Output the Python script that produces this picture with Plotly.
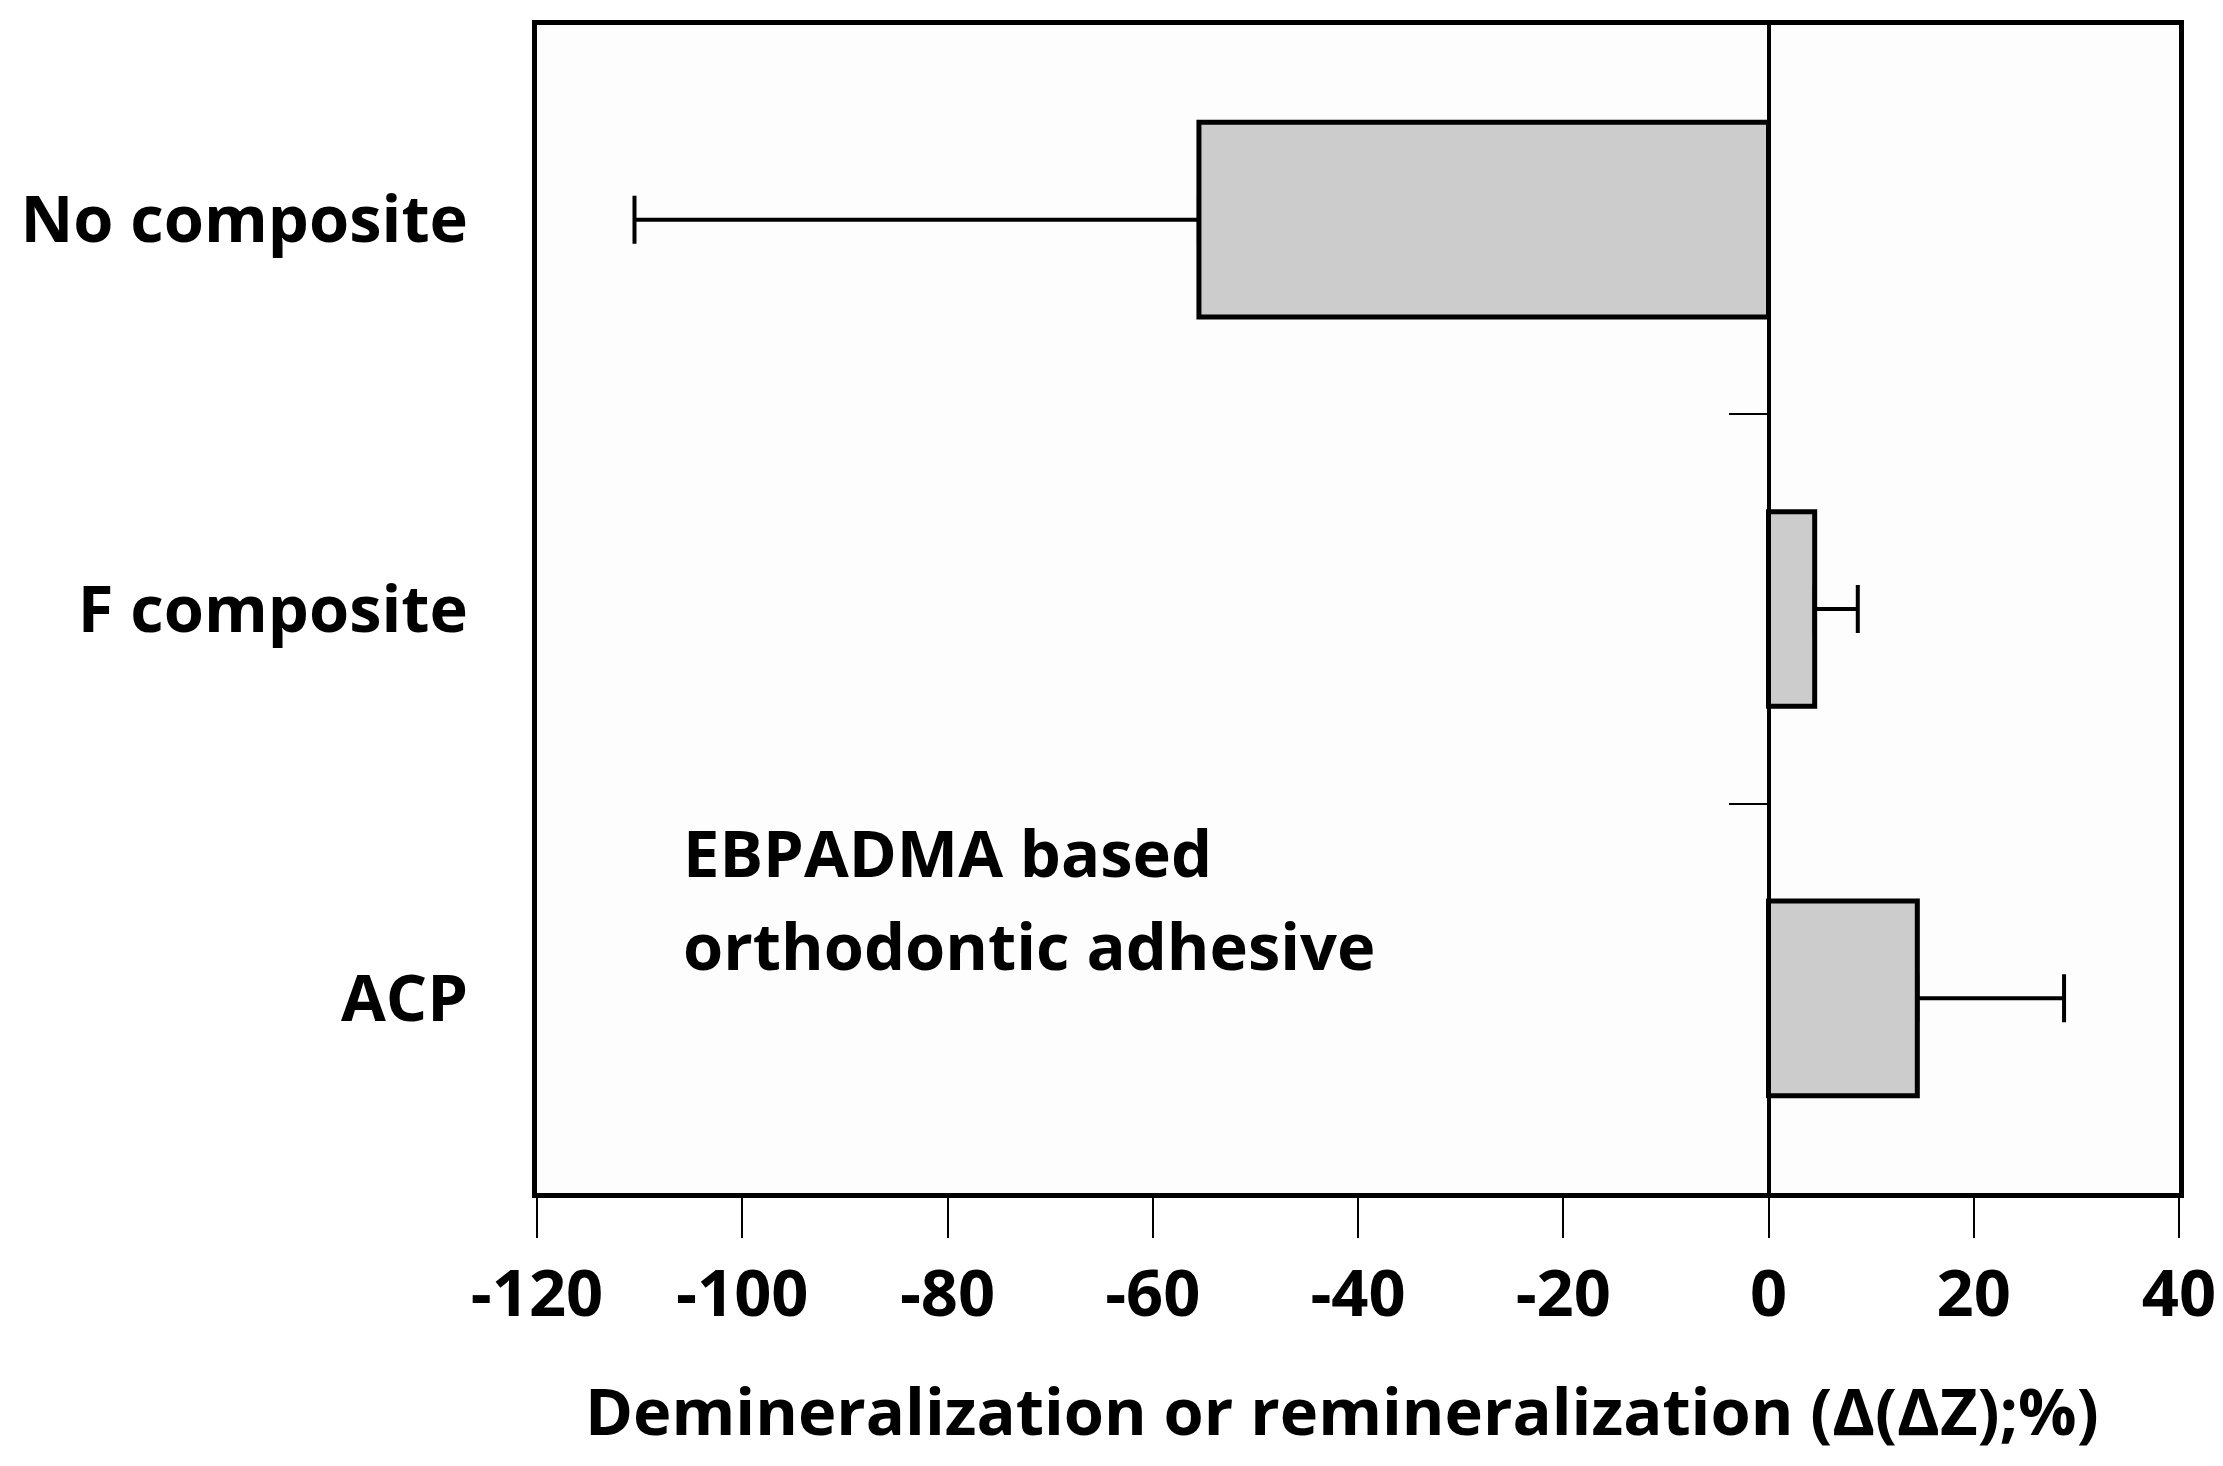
import plotly.graph_objects as go

categories = ["No composite", "F composite", "ACP"]
values = [-55.5, 4.5, 14.5]
err_plus = [0.0, 4.2, 14.3]
err_minus = [55.0, 0.0, 0.0]
x_ticks = [-120, -100, -80, -60, -40, -20, 0, 20, 40]
x_title = "Demineralization or remineralization (Δ(ΔZ);%)"
note_lines = ["EBPADMA based", "orthodontic adhesive"]

FONT = "Open Sans, Lato, sans-serif"
FS = 65
F = dict(family=FONT, size=FS, color="black", weight="bold")

fig = go.Figure()
fig.add_trace(go.Bar(
    y=categories, x=values, orientation="h", width=0.5,
    marker=dict(color="#cccccc", line=dict(color="black", width=5)),
    error_x=dict(type="data", symmetric=False, array=err_plus, arrayminus=err_minus,
                 color="black", thickness=4, width=24),
    showlegend=False, hoverinfo="skip",
))

n = len(categories)
boundaries = [i + 0.5 for i in range(n - 1)]
# invisible helper so the zero-position axis (category boundary ticks) is drawn
fig.add_trace(go.Scatter(y=list(range(n)), x=[0] * n, yaxis="y2", mode="markers",
                         marker=dict(opacity=0), showlegend=False, hoverinfo="skip"))

note_y = [0.292, 0.212]
annotations = [dict(
    text=t, xref="x", yref="paper", x=-106, y=yy,
    xanchor="left", yanchor="middle", align="left", showarrow=False, font=F,
) for t, yy in zip(note_lines, note_y)]
# x-axis title (placed slightly left of centre, as in the original)
annotations.append(dict(
    text=x_title, xref="paper", yref="paper", x=0.490, y=-0.186,
    xanchor="center", yanchor="middle", showarrow=False, font=F,
))

fig.update_layout(
    width=2223, height=1466,
    margin=dict(l=527, r=52, t=14, b=281),
    paper_bgcolor="white", plot_bgcolor="#fdfdfd",
    font=F,
    xaxis=dict(
        range=[-120, 40], tickvals=x_ticks, ticktext=[str(v) for v in x_ticks],
        ticks="outside", ticklen=40, tickwidth=2, tickcolor="black",
        showline=True, linewidth=5, linecolor="black", mirror=True,
        showgrid=False, zeroline=True, zerolinecolor="black", zerolinewidth=4,
        tickfont=F,
    ),
    yaxis=dict(
        categoryorder="array", categoryarray=categories, autorange="reversed",
        ticks="", showgrid=False, zeroline=False,
        showline=True, linewidth=5, linecolor="black", mirror=True,
        tickfont=F, ticklabelstandoff=51,
    ),
    yaxis2=dict(
        overlaying="y", anchor="free", position=(0 - (-120)) / 160, side="left",
        type="linear", range=[n - 0.5, -0.5],
        tickvals=boundaries, ticks="outside", ticklen=40, tickwidth=2, tickcolor="black",
        showticklabels=False, showgrid=False, zeroline=False, showline=False,
    ),
    annotations=annotations,
)

fig.write_html("out.html")
